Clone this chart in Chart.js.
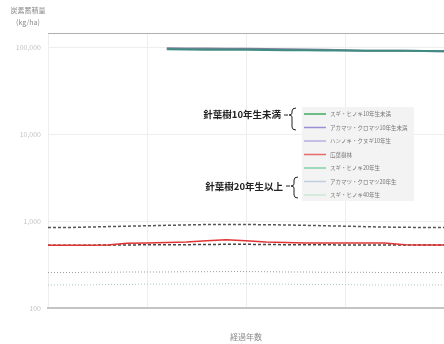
<!DOCTYPE html>
<html>
<head>
<meta charset="utf-8">
<script src="https://cdn.jsdelivr.net/npm/chart.js@4.4.1/dist/chart.umd.min.js"></script>
<style>
  html, body { margin: 0; padding: 0; background: #fff; }
  #wrap { width: 444px; height: 344px; overflow: hidden; }
</style>
</head>
<body>
<div id="wrap"><canvas id="chart" width="444" height="344"></canvas></div>
<script>
// data (log scale, approx)
const years = [0, 4, 8, 12, 16, 20, 24, 28, 32, 36, 40, 44, 48, 52, 56, 60, 64, 68, 72, 76, 80];
const yTicks = [100, 1000, 10000, 100000];

const seriesLabels = [
  "スギ・ヒノキ10年生未満",
  "アカマツ・クロマツ10年生未満",
  "ハンノキ・クヌギ10年生",
  "広葉樹林",
  "スギ・ヒノキ20年生",
  "アカマツ・クロマツ20年生",
  "スギ・ヒノキ40年生",
];
const legendColors = ["#3fae5e", "#9a8fd2", "#b9aee2", "#e56a6a", "#86d2a4", "#c3cde2", "#cbe9d4"];

const s1 = [null, null, null, null, null, null, 95000, 94500, 94000, 93800, 93500, 93000, 92800, 92500, 92000, 91800, 91500, 91000, 91000, 90500, 90000];
const s2 = [null, null, null, null, null, null, 97500, 97200, 96800, 96500, 96200, 95800, 95200, 94500, 93500, 92500, 91500, 91000, 91000, 90500, 90000];
const s3 = [850, 850, 860, 870, 880, 890, 900, 910, 920, 920, 920, 915, 910, 900, 890, 880, 870, 860, 855, 850, 850];
const s4 = [530, 530, 530, 535, 560, 565, 570, 580, 600, 615, 600, 580, 570, 565, 565, 565, 565, 565, 540, 535, 535];
const s5 = [530, 530, 532, 535, 536, 538, 540, 540, 542, 545, 545, 542, 540, 540, 538, 536, 536, 535, 535, 534, 534];
const s6 = [258, 258, 260, 260, 262, 262, 262, 264, 264, 265, 265, 264, 262, 262, 260, 260, 260, 258, 258, 258, 258];
const s7 = [186, 186, 186, 188, 188, 190, 190, 190, 190, 192, 192, 190, 190, 188, 188, 188, 186, 186, 186, 186, 186];

const FONT = "'Noto Sans CJK JP', 'Noto Sans', sans-serif";

function pts(arr) {
  return arr.map((v, i) => ({ x: years[i], y: v }));
}

const datasets = [
  { label: seriesLabels[0], data: pts(s1), borderColor: "#3f8c80", borderWidth: 2 },
  { label: seriesLabels[1], data: pts(s2), borderColor: "#7a7f9c", borderWidth: 2 },
  { label: seriesLabels[2], data: pts(s3), borderColor: "#555", borderWidth: 1.5, borderDash: [3, 2] },
  { label: seriesLabels[3], data: pts(s4), borderColor: "#e03434", borderWidth: 1.5 },
  { label: seriesLabels[4], data: pts(s5), borderColor: "#444", borderWidth: 1.5, borderDash: [3, 2] },
  { label: seriesLabels[5], data: pts(s6), borderColor: "#9a9a9a", borderWidth: 1, borderDash: [1, 2] },
  { label: seriesLabels[6], data: pts(s7), borderColor: "#a9c9c2", borderWidth: 1, borderDash: [1, 2] },
];
datasets.forEach((d) => { d.pointRadius = 0; d.fill = false; d.tension = 0; });

// legend box, group brackets, axis caption and top line
const extras = {
  id: "extras",
  afterDraw(chart) {
    const ctx = chart.ctx;
    const a = chart.chartArea;
    ctx.save();
    // top border
    ctx.strokeStyle = "#b0b0b0";
    ctx.lineWidth = 1;
    ctx.beginPath();
    ctx.moveTo(a.left, a.top + 0.5);
    ctx.lineTo(a.right, a.top + 0.5);
    ctx.stroke();

    // y caption
    ctx.fillStyle = "#8a8a8a";
    ctx.font = "7px " + FONT;
    ctx.textAlign = "center";
    ctx.textBaseline = "middle";
    ctx.fillText("炭素蓄積量", 28, 10);
    ctx.fillText("(kg/ha)", 28, 22);

    // legend
    const bx = 302, by = 107, bw = 112, bh = 94;
    ctx.fillStyle = "#f3f3f3";
    ctx.fillRect(bx, by, bw, bh);
    const rows = [114, 127.5, 141, 154.5, 168, 181.5, 195];
    ctx.font = "5.5px " + FONT;
    ctx.textAlign = "left";
    seriesLabels.forEach((lab, i) => {
      ctx.strokeStyle = legendColors[i];
      ctx.lineWidth = 1.5;
      ctx.beginPath();
      ctx.moveTo(304, rows[i]);
      ctx.lineTo(326, rows[i]);
      ctx.stroke();
      ctx.fillStyle = "#777";
      ctx.fillText(lab, 330, rows[i]);
    });

    // group labels with braces
    ctx.fillStyle = "#222";
    ctx.font = "bold 9.5px " + FONT;
    ctx.textAlign = "right";
    ctx.fillText("針葉樹10年生未満", 281, 114);
    ctx.fillText("針葉樹20年生以上", 283, 186);
    function brace(x, y0, y1, tip) {
      ctx.strokeStyle = "#222";
      ctx.lineWidth = 1;
      ctx.beginPath();
      ctx.moveTo(x + 6, y0);
      ctx.quadraticCurveTo(x + 2, y0, x + 2, y0 + 3);
      ctx.lineTo(x + 2, tip - 2);
      ctx.quadraticCurveTo(x + 2, tip, x - 1, tip);
      ctx.quadraticCurveTo(x + 2, tip, x + 2, tip + 2);
      ctx.lineTo(x + 2, y1 - 3);
      ctx.quadraticCurveTo(x + 2, y1, x + 6, y1);
      ctx.stroke();
      ctx.beginPath();
      ctx.moveTo(x - 6, tip);
      ctx.lineTo(x - 2, tip);
      ctx.stroke();
    }
    brace(290, 108, 130, 115);
    brace(292, 177, 198, 186);
    ctx.restore();
  },
};

new Chart(document.getElementById("chart"), {
  type: "line",
  data: { datasets },
  options: {
    responsive: false,
    animation: false,
    layout: { padding: { top: 33, right: 0, bottom: 2, left: 0 } },
    plugins: { legend: { display: false }, tooltip: { enabled: false } },
    scales: {
      x: {
        type: "linear",
        min: 0,
        max: 80,
        ticks: { display: false, stepSize: 20 },
        grid: { color: "#eeeeee", drawTicks: false },
        border: { display: true, color: "#c4c4c4", width: 2 },
        title: {
          display: true,
          text: "経過年数",
          color: "#8a8a8a",
          font: { family: FONT, size: 8 },
          padding: { top: 24, bottom: 0 },
        },
      },
      y: {
        type: "logarithmic",
        min: 100,
        max: 146000,
        afterBuildTicks: (scale) => { scale.ticks = yTicks.map((v) => ({ value: v })); },
        afterFit: (scale) => { scale.width = 48; },
        ticks: {
          color: "#c4c4c4",
          font: { family: FONT, size: 7 },
          padding: 7,
          callback: (v) => Number(v).toLocaleString("en-US"),
        },
        grid: { color: "#eeeeee", drawTicks: false },
        border: { display: false },
      },
    },
  },
  plugins: [extras],
});
</script>
</body>
</html>
